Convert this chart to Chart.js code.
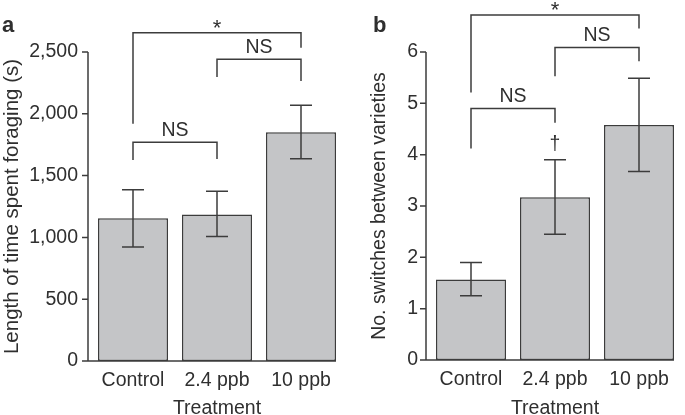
<!DOCTYPE html>
<html>
<head>
<meta charset="utf-8">
<script src="https://cdn.jsdelivr.net/npm/chart.js@4/dist/chart.umd.min.js"></script>
<style>
  html, body { margin: 0; padding: 0; background: #fff; }
  #wrap { position: relative; width: 685px; height: 415px; overflow: hidden; }
  #timeChart { position: absolute; left: 0; top: 0; }
  #switchChart { position: absolute; left: 340px; top: 0; }
</style>
</head>
<body>
<div id="wrap">
  <canvas id="timeChart" width="350" height="415"></canvas>
  <canvas id="switchChart" width="345" height="415"></canvas>
</div>
<script>
// ── DATA ──────────────────────────────────────────────────────────────
const categories = ['Control', '2.4 ppb', '10 ppb'];

// panel a: length of time spent foraging (s), mean with error range
const timeMeans = [1155, 1185, 1850];
const timeLow   = [922, 1008, 1637];
const timeHigh  = [1385, 1373, 2070];
const timeTicks = [0, 500, 1000, 1500, 2000, 2500];

// panel b: no. switches between varieties
const switchMeans = [1.57, 3.17, 4.58];
const switchLow   = [1.25, 2.45, 3.67];
const switchHigh  = [1.90, 3.90, 5.49];
const switchTicks = [0, 1, 2, 3, 4, 5, 6];

// significance brackets: [from, to, bar height, left leg end, right leg end, label]
const timeBrackets = [
  [0, 2, 2656, 1919, 2535, '*'],
  [1, 2, 2441, 2298, 2266, 'NS'],
  [0, 1, 1769, 1627, 1634, 'NS']
];
const switchBrackets = [
  [0, 2, 6.72, 5.21, 6.46, '*'],
  [1, 2, 6.09, 5.53, 5.82, 'NS'],
  [0, 1, 4.90, 4.12, 4.62, 'NS']
];
// extra marks above error bars
const switchMarks = ['', '\u2020', ''];

// ── STYLE ─────────────────────────────────────────────────────────────
const FONT = "'Liberation Sans', Arial, Helvetica, sans-serif";
const INK = '#2f2f2f';
const LINE = '#3c3c3c';
const BAR_FILL = '#c4c5c7';

Chart.defaults.font.family = FONT;
Chart.defaults.color = INK;

// draws axes, error bars, brackets and the panel letter
const extrasPlugin = {
  id: 'extras',
  afterDatasetsDraw(chart, args, opts) {
    const ctx = chart.ctx;
    const x = chart.scales.x, y = chart.scales.y;
    const area = chart.chartArea;
    const axisX = area.left - 3;
    const meta = chart.getDatasetMeta(0);
    ctx.save();
    ctx.strokeStyle = LINE;
    ctx.lineWidth = 1.5;

    // y axis with ticks
    ctx.beginPath();
    ctx.moveTo(axisX, y.getPixelForValue(y.max));
    ctx.lineTo(axisX, y.getPixelForValue(0));
    y.ticks.forEach(t => {
      const py = y.getPixelForValue(t.value);
      ctx.moveTo(axisX - 6, py);
      ctx.lineTo(axisX, py);
    });
    // x axis up to the last bar
    const last = meta.data[meta.data.length - 1];
    ctx.moveTo(axisX - 6, y.getPixelForValue(0));
    ctx.lineTo(last.x + last.width / 2, y.getPixelForValue(0));
    ctx.stroke();

    // error bars
    ctx.beginPath();
    opts.low.forEach((lo, i) => {
      const px = x.getPixelForValue(i);
      const pLo = y.getPixelForValue(lo), pHi = y.getPixelForValue(opts.high[i]);
      ctx.moveTo(px, pLo); ctx.lineTo(px, pHi);
      ctx.moveTo(px - 11, pLo); ctx.lineTo(px + 11, pLo);
      ctx.moveTo(px - 11, pHi); ctx.lineTo(px + 11, pHi);
    });
    ctx.stroke();

    // brackets
    ctx.fillStyle = INK;
    ctx.textAlign = 'center';
    ctx.textBaseline = 'alphabetic';
    opts.brackets.forEach(b => {
      const x0 = x.getPixelForValue(b[0]), x1 = x.getPixelForValue(b[1]);
      const top = y.getPixelForValue(b[2]);
      ctx.beginPath();
      ctx.moveTo(x0, y.getPixelForValue(b[3]));
      ctx.lineTo(x0, top);
      ctx.lineTo(x1, top);
      ctx.lineTo(x1, y.getPixelForValue(b[4]));
      ctx.stroke();
      if (b[5] === '*') {
        ctx.font = '22px ' + FONT;
        ctx.fillText('*', (x0 + x1) / 2, top + 2);
      } else {
        ctx.font = '19.5px ' + FONT;
        ctx.fillText(b[5], (x0 + x1) / 2, top - 6);
      }
    });

    // marks above error bars
    (opts.marks || []).forEach((m, i) => {
      if (!m) return;
      ctx.font = '19.5px ' + FONT;
      ctx.fillText(m, x.getPixelForValue(i), y.getPixelForValue(opts.high[i]) - 10);
    });

    // panel letter
    ctx.font = 'bold 22px ' + FONT;
    ctx.textAlign = 'left';
    ctx.fillText(opts.letter, opts.letterX, 32);
    ctx.restore();
  }
};

function makePanel(id, means, low, high, ticks, brackets, marks, cfg) {
  return new Chart(document.getElementById(id), {
    type: 'bar',
    data: {
      labels: categories,
      datasets: [{
        data: means,
        backgroundColor: BAR_FILL,
        borderColor: LINE,
        borderWidth: 1.5,
        borderSkipped: false,
        categoryPercentage: 1,
        barPercentage: 70 / 84
      }]
    },
    plugins: [extrasPlugin],
    options: {
      responsive: false,
      animation: false,
      layout: { padding: { left: cfg.padLeft, top: 52, right: cfg.padRight, bottom: 0 } },
      plugins: {
        legend: { display: false },
        tooltip: { enabled: false },
        extras: { low, high, brackets, marks, letter: cfg.letter, letterX: cfg.letterX }
      },
      scales: {
        x: {
          grid: { display: false, drawTicks: false },
          border: { display: false },
          ticks: { color: INK, padding: 8, font: { size: 19.5 } },
          title: { display: true, text: 'Treatment', color: INK, font: { size: 19.5 }, padding: { top: 0, bottom: -5 } },
          afterFit: s => { s.height = cfg.xHeight; }
        },
        y: {
          min: ticks[0],
          max: ticks[ticks.length - 1],
          afterBuildTicks: s => { s.ticks = ticks.map(v => ({ value: v })); },
          grid: { display: false, drawTicks: false },
          border: { display: false },
          ticks: {
            color: INK, padding: cfg.tickPad, font: { size: 19.5 },
            callback: v => v.toLocaleString('en-US')
          },
          title: { display: true, text: cfg.yTitle, color: INK, font: { size: cfg.yTitleSize }, padding: 0 },
          afterFit: s => { s.width = cfg.yWidth; }
        }
      }
    }
  });
}

makePanel('timeChart', timeMeans, timeLow, timeHigh, timeTicks, timeBrackets, [], {
  letter: 'a', letterX: 2, padLeft: 0, padRight: 7, yWidth: 91, xHeight: 54, tickPad: 13,
  yTitle: 'Length of time spent foraging (s)', yTitleSize: 20.5
});
makePanel('switchChart', switchMeans, switchLow, switchHigh, switchTicks, switchBrackets, switchMarks, {
  letter: 'b', letterX: 33, padLeft: 28, padRight: 4, yWidth: 61, xHeight: 55, tickPad: 11,
  yTitle: 'No. switches between varieties', yTitleSize: 19.5
});
</script>
</body>
</html>
